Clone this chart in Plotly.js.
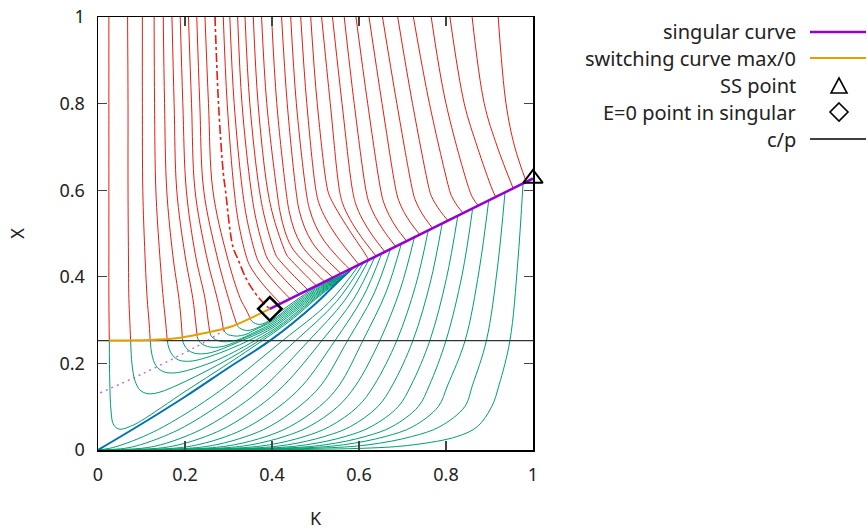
<!DOCTYPE html>
<html><head><meta charset="utf-8">
<script src="https://cdn.plot.ly/plotly-3.0.1.min.js"></script>
<style>html,body{margin:0;padding:0;background:#fff}</style>
</head><body><div id="chart" style="width:867px;height:530px"></div>
<script>
// ---- data (K on x, X on y) ----
const redK = [
 [0.025,0.025,0.025,0.025,0.025,0.026],
 [0.068,0.069,0.069,0.070,0.071,0.073,0.075],
 [0.102,0.102,0.103,0.108,0.113,0.117,0.120],
 [0.129,0.130,0.133,0.142,0.150,0.155,0.159],
 [0.150,0.153,0.158,0.172,0.186,0.191,0.194],
 [0.170,0.175,0.181,0.200,0.218,0.224,0.228],
 [0.189,0.195,0.203,0.224,0.246,0.253,0.257],
 [0.208,0.215,0.223,0.249,0.274,0.283,0.288],
 [0.227,0.234,0.243,0.273,0.300,0.311,0.318],
 [0.246,0.254,0.264,0.296,0.327,0.340,0.349],
 [0.288,0.297,0.313,0.323,0.340,0.3476,0.3635,0.3876,0.420],
 [0.303,0.313,0.332,0.344,0.363,0.3701,0.3857,0.4096,0.442],
 [0.321,0.331,0.352,0.365,0.386,0.3923,0.4074,0.4308,0.463],
 [0.338,0.349,0.371,0.386,0.409,0.4146,0.4288,0.4516,0.483],
 [0.357,0.368,0.390,0.407,0.434,0.4387,0.4517,0.4727,0.502],
 [0.376,0.388,0.411,0.419,0.4297,0.443,0.459,0.490,0.521],
 [0.399,0.411,0.432,0.4397,0.4513,0.4667,0.486,0.540],
 [0.422,0.435,0.455,0.4625,0.4753,0.493,0.516,0.559],
 [0.443,0.456,0.478,0.486,0.5002,0.5205,0.547,0.579],
 [0.466,0.480,0.501,0.5084,0.5244,0.5489,0.582,0.600],
 [0.489,0.504,0.528,0.5346,0.5514,0.5786,0.616,0.622],
 [0.514,0.534,0.555,0.5626,0.5794,0.6051,0.640],
 [0.539,0.561,0.585,0.5926,0.6075,0.6301,0.660],
 [0.566,0.589,0.616,0.6232,0.6371,0.6577,0.685],
 [0.593,0.620,0.650,0.6569,0.6693,0.6869,0.710],
 [0.623,0.653,0.685,0.6913,0.7025,0.7188,0.740],
 [0.654,0.687,0.723,0.7287,0.7385,0.7522,0.770],
 [0.689,0.723,0.762,0.7665,0.7753,0.788,0.805],
 [0.725,0.762,0.808,0.8119,0.8185,0.8279,0.840],
 [0.766,0.800,0.854,0.8617,0.875],
 [0.809,0.842,0.872,0.907,0.915],
 [0.860,0.888,0.918,0.955],
 [0.920,0.938,0.958,0.985]
];
const redX = [
 [1,0.8,0.6,0.45,0.35,0.253],
 [1,0.8,0.6,0.45,0.35,0.3,0.253],
 [1,0.8,0.6,0.45,0.35,0.3,0.254],
 [1,0.8,0.6,0.45,0.35,0.3,0.255],
 [1,0.8,0.6,0.45,0.35,0.3,0.257],
 [1,0.8,0.6,0.45,0.35,0.3,0.262],
 [1,0.8,0.6,0.45,0.35,0.3,0.271],
 [1,0.8,0.6,0.45,0.35,0.31,0.28],
 [1,0.8,0.6,0.45,0.35,0.315,0.293],
 [1,0.8,0.6,0.45,0.35,0.325,0.306],
 [1,0.8,0.6,0.525,0.45,0.4286,0.4028,0.3726,0.338],
 [1,0.8,0.6,0.525,0.45,0.4332,0.4108,0.3827,0.349],
 [1,0.8,0.6,0.525,0.45,0.4375,0.4183,0.392,0.359],
 [1,0.8,0.6,0.525,0.45,0.4414,0.4251,0.4009,0.369],
 [1,0.8,0.6,0.525,0.45,0.4439,0.4301,0.4084,0.379],
 [1,0.8,0.6,0.5475,0.5051,0.4725,0.45,0.419,0.388],
 [1,0.8,0.6,0.5497,0.5079,0.4747,0.45,0.398],
 [1,0.8,0.6,0.5535,0.513,0.4785,0.45,0.407],
 [1,0.8,0.6,0.5572,0.5179,0.4822,0.45,0.417],
 [1,0.8,0.6,0.5685,0.5331,0.4935,0.45,0.428],
 [1,0.8,0.6,0.5814,0.5502,0.5064,0.45,0.439],
 [1,0.8,0.6,0.5687,0.5328,0.4922,0.447],
 [1,0.8,0.6,0.568,0.5335,0.4965,0.457],
 [1,0.8,0.6,0.5707,0.5393,0.5054,0.469],
 [1,0.8,0.6,0.5713,0.5421,0.5122,0.482],
 [1,0.8,0.6,0.5762,0.5511,0.5245,0.497],
 [1,0.8,0.6,0.5791,0.5574,0.5348,0.511],
 [1,0.8,0.6,0.5859,0.5694,0.5503,0.529],
 [1,0.8,0.6,0.5884,0.5756,0.5614,0.546],
 [1,0.8,0.6,0.5821,0.563],
 [1,0.8,0.7,0.6,0.583],
 [1,0.8,0.7,0.603],
 [1,0.8,0.7,0.618]
];
// green trajectories leaving the switching curve
const greenAK = [
 [0.026,0.027,0.030,0.036,0.05,0.075,0.1,0.2,0.3,0.4,0.45,0.5,0.58],
 [0.075,0.078,0.085,0.097,0.115,0.14,0.2,0.3,0.4,0.45,0.5,0.578],
 [0.12,0.124,0.133,0.148,0.165,0.19,0.25,0.3,0.4,0.45,0.5,0.575],
 [0.159,0.163,0.172,0.185,0.2,0.225,0.3,0.4,0.45,0.5,0.572],
 [0.194,0.198,0.207,0.22,0.235,0.26,0.32,0.4,0.45,0.5,0.57],
 [0.228,0.232,0.24,0.252,0.265,0.29,0.34,0.4,0.45,0.5,0.567],
 [0.257,0.261,0.27,0.282,0.295,0.32,0.36,0.4,0.45,0.5,0.564],
 [0.288,0.292,0.3,0.31,0.32,0.34,0.36,0.4,0.45,0.5,0.56],
 [0.318,0.322,0.33,0.345,0.365,0.4,0.45,0.5,0.557],
 [0.349,0.353,0.362,0.372,0.385,0.4,0.45,0.5,0.554]
];
const greenAX = [
 [0.253,0.16,0.09,0.058,0.048,0.055,0.068,0.135,0.2,0.268,0.305,0.348,0.413],
 [0.253,0.2,0.16,0.138,0.13,0.133,0.158,0.21,0.272,0.309,0.351,0.412],
 [0.254,0.22,0.195,0.182,0.178,0.18,0.198,0.22,0.276,0.313,0.354,0.41],
 [0.255,0.235,0.218,0.208,0.205,0.207,0.232,0.281,0.318,0.357,0.409],
 [0.257,0.243,0.231,0.224,0.222,0.225,0.248,0.285,0.322,0.36,0.408],
 [0.262,0.252,0.244,0.239,0.237,0.24,0.26,0.289,0.326,0.363,0.406],
 [0.271,0.262,0.255,0.251,0.25,0.254,0.272,0.293,0.33,0.366,0.405],
 [0.28,0.272,0.266,0.264,0.263,0.267,0.277,0.297,0.334,0.369,0.403],
 [0.293,0.285,0.279,0.276,0.282,0.30,0.338,0.372,0.401],
 [0.306,0.298,0.292,0.29,0.294,0.305,0.342,0.375,0.4]
];
// green trajectories leaving the origin
const greenBK = [
 [0,0.027,0.055,0.104,0.151,0.227,0.298,0.425,0.530,0.600],
 [0,0.062,0.097,0.150,0.199,0.273,0.340,0.455,0.548,0.610],
 [0,0.101,0.144,0.200,0.250,0.323,0.386,0.485,0.567,0.622],
 [0,0.137,0.186,0.247,0.298,0.369,0.428,0.515,0.588,0.636],
 [0,0.173,0.229,0.294,0.346,0.416,0.471,0.545,0.609,0.652],
 [0,0.208,0.271,0.340,0.394,0.462,0.513,0.574,0.633,0.672],
 [0,0.243,0.313,0.386,0.441,0.509,0.555,0.609,0.662,0.697],
 [0,0.274,0.352,0.428,0.485,0.551,0.593,0.648,0.695,0.727],
 [0,0.309,0.394,0.474,0.532,0.597,0.635,0.687,0.730,0.759],
 [0,0.344,0.436,0.520,0.580,0.643,0.677,0.724,0.764,0.791],
 [0,0.381,0.479,0.568,0.628,0.690,0.720,0.763,0.801,0.827],
 [0,0.416,0.522,0.614,0.676,0.736,0.762,0.800,0.837,0.861],
 [0,0.451,0.564,0.660,0.724,0.782,0.804,0.844,0.876,0.898],
 [0,0.501,0.621,0.721,0.786,0.843,0.861,0.893,0.9185,0.9355],
 [0,0.610,0.725,0.825,0.872,0.905,0.922,0.947,0.965,0.977]
];
const greenBX = [
 [0,0.004,0.012,0.031,0.054,0.1,0.15,0.253,0.34,0.427],
 [0,0.004,0.012,0.031,0.054,0.1,0.15,0.253,0.3425,0.432],
 [0,0.004,0.012,0.031,0.054,0.1,0.15,0.253,0.3455,0.438],
 [0,0.004,0.012,0.031,0.054,0.1,0.15,0.253,0.349,0.445],
 [0,0.004,0.012,0.031,0.054,0.1,0.15,0.253,0.353,0.453],
 [0,0.004,0.012,0.031,0.054,0.1,0.15,0.253,0.358,0.463],
 [0,0.004,0.012,0.031,0.054,0.1,0.15,0.253,0.364,0.475],
 [0,0.004,0.012,0.031,0.054,0.1,0.15,0.253,0.3715,0.49],
 [0,0.004,0.012,0.031,0.054,0.1,0.15,0.253,0.3795,0.506],
 [0,0.004,0.012,0.031,0.054,0.1,0.15,0.253,0.3875,0.522],
 [0,0.004,0.012,0.031,0.054,0.1,0.15,0.253,0.3965,0.54],
 [0,0.004,0.012,0.031,0.054,0.1,0.15,0.253,0.4045,0.556],
 [0,0.004,0.012,0.031,0.054,0.1,0.15,0.253,0.414,0.575],
 [0,0.004,0.012,0.031,0.054,0.1,0.15,0.253,0.423,0.593],
 [0,0.004,0.012,0.031,0.054,0.1,0.15,0.253,0.4335,0.614]
];
const dashK = [0.269,0.277,0.288,0.293,0.310,0.322,0.342,0.363,0.380,0.395];
const dashX = [1,0.8,0.64,0.6,0.47,0.44,0.393,0.36,0.34,0.326];
const blueK = [0,0.1,0.2,0.3,0.4,0.5,0.533,0.585];
const blueX = [0,0.06,0.123,0.19,0.256,0.338,0.37,0.42];
const dotK = [0.005,0.1,0.2,0.25,0.3];
const dotX = [0.132,0.175,0.225,0.252,0.283];
const singK = [0.395,1.0];
const singX = [0.326,0.627];
const switchK = [0.025,0.12,0.18,0.235,0.303,0.356,0.395];
const switchX = [0.253,0.254,0.258,0.268,0.284,0.307,0.326];
const cpK = [0,1];
const cpX = [0.2525,0.2525];
const ssK = [1.0], ssX = [0.627];
const e0K = [0.395], e0X = [0.326];
const tickVals = [0,0.2,0.4,0.6,0.8,1];
const tickText = ['0','0.2','0.4','0.6','0.8','1'];
const legendLabels = ['singular curve','switching curve max/0','SS point','E=0 point in singular','c/p'];

// ---- build traces ----
const RED='#e51e10', GREEN='#009e73', BLUE='#0072b2', PURPLE='#9400d3', ORANGE='#e69f00';
const traces = [];
function line(k,x,color,width,dash,shape){
  traces.push({type:'scatter',mode:'lines',x:k,y:x,hoverinfo:'skip',showlegend:false,
    line:{color:color,width:width,dash:dash||'solid',shape:shape||'spline',smoothing:1}});
}
greenBK.forEach((k,i)=>line(k,greenBX[i],GREEN,1));
greenAK.forEach((k,i)=>line(k,greenAX[i],GREEN,1));
redK.forEach((k,i)=>line(k,redX[i],RED,1));
line(blueK,blueX,BLUE,2);
line(dotK,dotX,'#b36ae2',1.4,'2px,4px');
line(dashK,dashX,RED,1.6,'dashdot');
line(cpK,cpX,'#333333',1.3,'solid','linear');
line(switchK,switchX,ORANGE,2,'solid');
line(singK,singX,PURPLE,2.6,'solid','linear');
traces.push({type:'scatter',mode:'markers',x:ssK,y:ssX,cliponaxis:false,showlegend:false,hoverinfo:'skip',
  marker:{symbol:'triangle-up-open',size:17,color:'#000',line:{width:2,color:'#000'}}});
traces.push({type:'scatter',mode:'markers',x:e0K,y:e0X,cliponaxis:false,showlegend:false,hoverinfo:'skip',
  marker:{symbol:'diamond-open',size:18,color:'#000',line:{width:2.5,color:'#000'}}});

// ---- manual gnuplot-style legend (text right, sample left) ----
const L=98, T=17, PW=435, PH=433;
const px=(p)=>(p-L)/PW, py=(p)=>(T+PH-p)/PH;
const rowsY=[32,58,85,112,139];
const annotations = legendLabels.map((t,i)=>({xref:'paper',yref:'paper',x:px(798),y:py(rowsY[i]),
  xanchor:'right',yanchor:'middle',showarrow:false,text:t,font:{family:'Noto Sans',size:20,color:'#222'}}));
const shapes = [
 {type:'line',xref:'paper',yref:'paper',x0:px(810),x1:px(866),y0:py(32),y1:py(32),line:{color:PURPLE,width:2.6}},
 {type:'line',xref:'paper',yref:'paper',x0:px(810),x1:px(866),y0:py(58),y1:py(58),line:{color:ORANGE,width:2}},
 {type:'path',xref:'paper',yref:'paper',path:`M${px(831)},${py(93)} L${px(847)},${py(93)} L${px(839)},${py(78)} Z`,line:{color:'#000',width:1.6}},
 {type:'path',xref:'paper',yref:'paper',path:`M${px(839)},${py(103)} L${px(848)},${py(112)} L${px(839)},${py(121)} L${px(830)},${py(112)} Z`,line:{color:'#000',width:1.6}},
 {type:'line',xref:'paper',yref:'paper',x0:px(810),x1:px(866),y0:py(139),y1:py(139),line:{color:'#000',width:1.3}}
];

const axisCommon = {range:[0,1],tickvals:tickVals,ticktext:tickText,ticks:'inside',ticklen:9,tickwidth:1.3,
  tickcolor:'#444',showline:true,linecolor:'#000',linewidth:1.5,mirror:'ticks',showgrid:false,zeroline:false,
  tickfont:{family:'Noto Sans',size:18,color:'#222'}};
const layout = {
  width:867,height:530,margin:{l:98,r:334,t:17,b:80},paper_bgcolor:'#fff',plot_bgcolor:'#fff',
  showlegend:false,
  xaxis:Object.assign({},axisCommon,{title:{text:'K',font:{family:'Noto Sans',size:18,color:'#222'},standoff:28},ticklabelstandoff:8}),
  yaxis:Object.assign({},axisCommon,{title:{text:'X',font:{family:'Noto Sans',size:18,color:'#222'},standoff:30},ticklabelstandoff:8}),
  annotations:annotations,shapes:shapes
};
Plotly.newPlot('chart',traces,layout,{staticPlot:true,displayModeBar:false});
</script></body></html>
